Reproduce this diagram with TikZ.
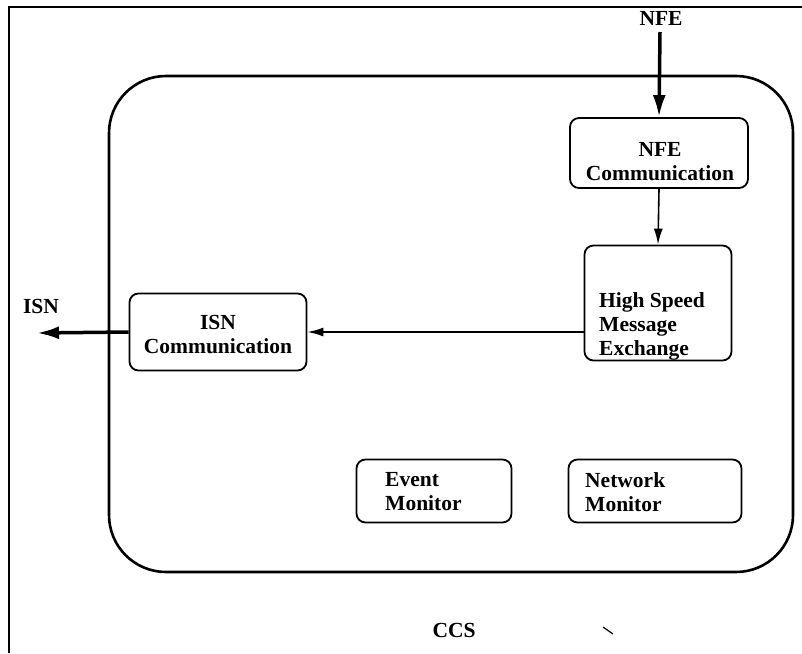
\documentclass[tikz,border=0pt]{standalone}
\usepackage{fontspec}
\setmainfont{Liberation Serif}
\usetikzlibrary{arrows.meta}
\begin{document}
\begin{tikzpicture}[x=1pt,y=-1pt,
  box/.style={draw,line width=1.8pt,rounded corners=9pt,inner sep=0pt},
  lbl/.style={font=\bfseries\fontsize{21.5}{24}\selectfont,inner sep=0pt},
  txt/.style={font=\bfseries\fontsize{21.5}{24}\selectfont,inner sep=0pt,align=left},
  ctxt/.style={font=\bfseries\fontsize{21.5}{24}\selectfont,inner sep=0pt,align=center},
  bigarr/.style={line width=3.5pt,-{Latex[length=22pt,width=13pt]}},
  smallarr/.style={line width=1.6pt,-{Latex[length=16pt,width=9pt]}}]
\useasboundingbox (0,0) rectangle (802,653);
% outer frame (cropped)
\draw[line width=2.2pt] (9,653) -- (9,7) -- (802,7);
% CCS container
\draw[line width=2.6pt,rounded corners=57pt] (109,76) rectangle (793,572);
% boxes
\node[box,minimum width=178pt,minimum height=70pt] (nfec) at (659,153) {};
\node[box,minimum width=147pt,minimum height=115pt] (hsme) at (658,303) {};
\node[box,minimum width=177pt,minimum height=77pt] (isnc) at (218,332) {};
\node[box,minimum width=155pt,minimum height=63pt] (evm) at (434,491) {};
\node[box,minimum width=173pt,minimum height=63pt] (nwm) at (655,491) {};
% texts
\node[ctxt] (nfect) at (660,162) {NFE\\Communication};
\node[txt,anchor=north west] (hsmet) at (599,292) {High Speed\\Message\\Exchange};
\node[ctxt] (isnct) at (218,335) {ISN\\Communication};
\node[txt,anchor=west] (evmt) at (385,492) {Event\\Monitor};
\node[txt,anchor=west] (nwmt) at (585,492) {Network\\Monitor};
\node[lbl] (nfe) at (661,18) {NFE};
\node[lbl] (isn) at (41,306) {ISN};
\node[lbl] (ccs) at (454,630) {CCS};
% connectors
\coordinate (nfestart) at (660,32);
\coordinate (isnend) at (37,333);
\draw[bigarr] (nfestart) -- (nfec.north);
\draw[smallarr] (nfec.south) -- (hsme.north);
\draw[smallarr] (hsme.west |- isnc.east) -- (isnc.east);
\draw[bigarr] (isnc.west) -- (isnend);
% stray mark
\draw[line width=1.2pt] (603,627) -- (613,634);
\end{tikzpicture}
\end{document}
